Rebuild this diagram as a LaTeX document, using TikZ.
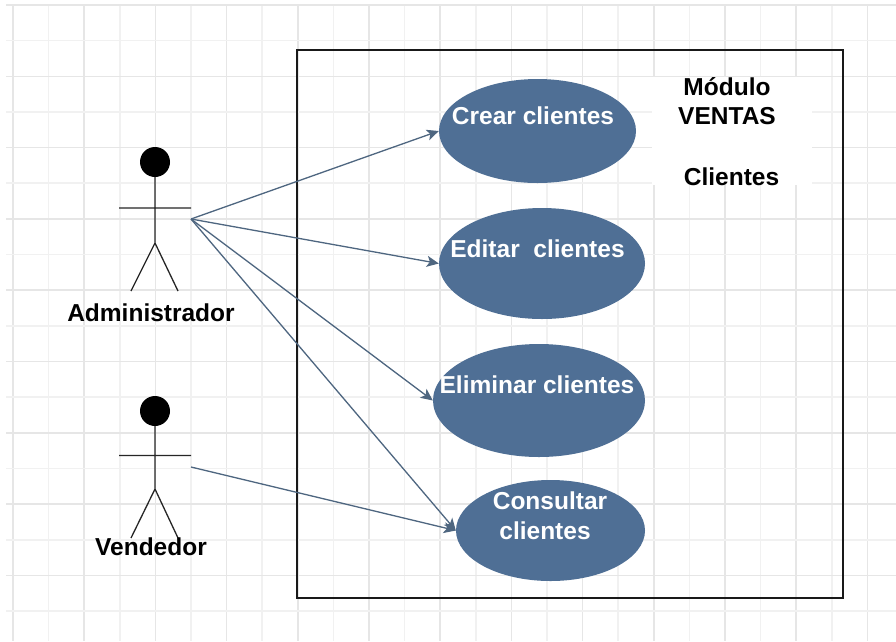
\documentclass[tikz,border=0pt]{standalone}
\usepackage{fontspec}
\setmainfont{Liberation Sans}
\usetikzlibrary{arrows.meta,shapes.geometric}
\definecolor{ucblue}{HTML}{4F6F95}
\definecolor{arrowblue}{HTML}{4E6680}
\definecolor{gridmajor}{HTML}{E6E6E6}
\definecolor{gridminor}{HTML}{F1F1F1}
\tikzset{
  x=1pt,y=-1pt,
  usecase/.style={ellipse,fill=ucblue,draw=none,inner sep=0pt,minimum width=#1},
  uctext/.style={text=white,font=\fontsize{24.5}{29}\selectfont\bfseries,inner sep=0pt,align=center},
  blacktext/.style={text=black,font=\fontsize{24.5}{29}\selectfont\bfseries,inner sep=0pt,align=center},
  stick/.style={draw=black!85,line width=1.3pt},
  assoc/.style={draw=arrowblue,line width=1.3pt,-{Stealth[length=12pt,width=11pt,inset=3pt]}},
}
\begin{document}
\begin{tikzpicture}
\useasboundingbox (0,0) rectangle (896,641);
\fill[white] (0,0) rectangle (896,641);
% grid
\foreach \i in {0,...,24}{
  \pgfmathsetmacro{\gx}{13+35.6*\i}
  \pgfmathtruncatemacro{\odd}{mod(\i,2)}
  \ifnum\odd=0 \draw[gridmajor,line width=1.6pt] (\gx,5) -- (\gx,641);
  \else \draw[gridminor,line width=1.6pt] (\gx,5) -- (\gx,641); \fi
}
\foreach \i in {0,...,17}{
  \pgfmathsetmacro{\gy}{5+35.65*\i}
  \pgfmathtruncatemacro{\odd}{mod(\i,2)}
  \ifnum\odd=0 \draw[gridmajor,line width=1.6pt] (6,\gy) -- (896,\gy);
  \else \draw[gridminor,line width=1.6pt] (6,\gy) -- (896,\gy); \fi
}
\fill[white] (652,77) rectangle (812,185);
% system box
\node[draw=black!90,line width=1.3pt,minimum width=546pt,minimum height=548pt,inner sep=0pt] (sys) at (570,324) {};
% use cases
\node[usecase=197pt,minimum height=104pt] (crear) at (537.5,131) {};
\node[usecase=206pt,minimum height=111pt] (editar) at (542,263.5) {};
\node[usecase=212pt,minimum height=113pt] (eliminar) at (539,400.5) {};
\node[usecase=189pt,minimum height=101pt] (consultar) at (550.5,530.5) {};
\node[uctext] (tcrear) at (533,116) {Crear clientes};
\node[uctext] (teditar) at (537.5,249) {Editar\ \ clientes};
\node[uctext] (teliminar) at (537,385) {Eliminar clientes};
\node[uctext] (tconsultar) at (550,501) {Consultar};
\node[uctext] (tconsultarb) at (545,531) {clientes};
% title
\node[blacktext] (mod) at (727,87) {Módulo};
\node[blacktext] (ventas) at (727,116) {VENTAS};
\node[blacktext] (cli) at (731.5,177) {Clientes};
% actors
\node[circle,fill=black,inner sep=0pt,minimum size=30pt] (heada) at (155,162) {};
\coordinate (hipa) at (155,243);
\coordinate (arma1) at (119,208);
\coordinate (arma2) at (191,208);
\coordinate (foota1) at (131,291);
\coordinate (foota2) at (178,291);
\draw[stick] (heada) -- (hipa) (arma1) -- (arma2) (foota1) -- (hipa) -- (foota2);
\node[blacktext] (admin) at (151,313) {Administrador};
\node[circle,fill=black,inner sep=0pt,minimum size=30pt] (headv) at (155,411) {};
\coordinate (hipv) at (155,489);
\coordinate (armv1) at (119,455.5);
\coordinate (armv2) at (191,455.5);
\coordinate (footv1) at (131,538);
\coordinate (footv2) at (178,538);
\draw[stick] (headv) -- (hipv) (armv1) -- (armv2) (footv1) -- (hipv) -- (footv2);
\node[blacktext] (vend) at (151,547) {Vendedor};
% connectors
\coordinate (srca) at (191,219);
\coordinate (srcv) at (191,467);
\draw[assoc] (srca) -- (crear.west);
\draw[assoc] (srca) -- (editar.west);
\draw[assoc] (srca) -- (eliminar.west);
\draw[assoc] (srca) -- (consultar.west);
\draw[assoc] (srcv) -- (consultar.west);
\end{tikzpicture}
\end{document}
